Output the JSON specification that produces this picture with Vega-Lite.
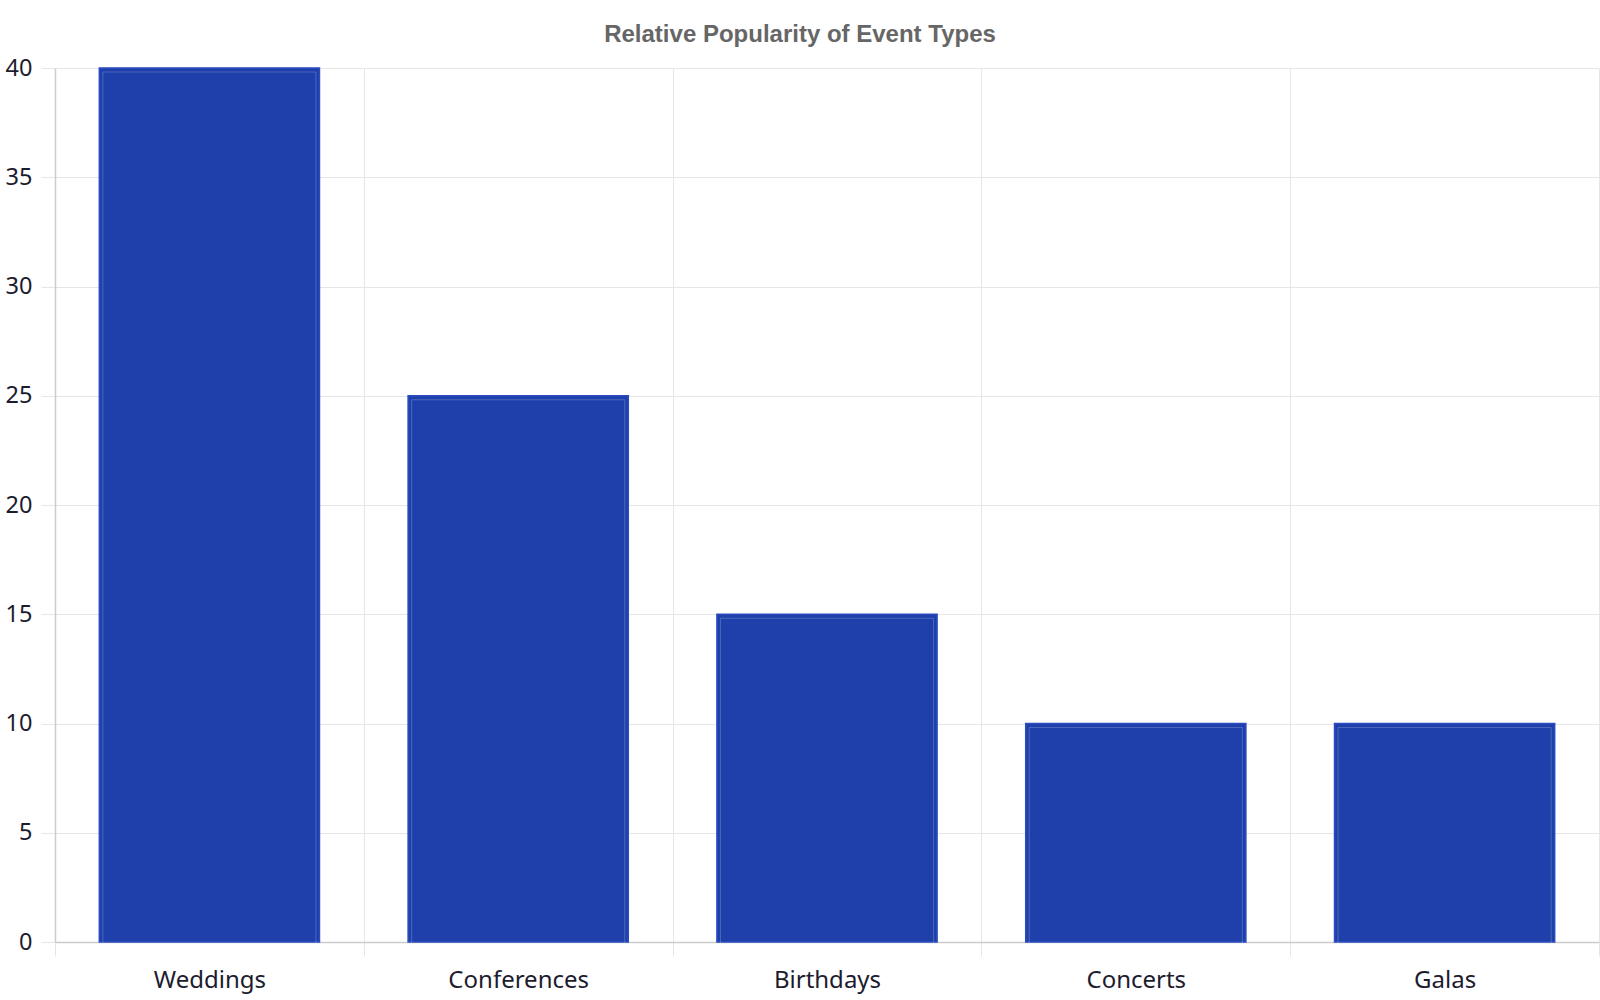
{
  "$schema": "https://vega.github.io/schema/vega-lite/v6.json",
  "autosize": "none",
  "width": 1544,
  "height": 874,
  "padding": {"left": 55, "top": 68, "right": 1, "bottom": 58},
  "background": "white",
  "title": {
    "text": "Relative Popularity of Event Types",
    "font": "Liberation Sans",
    "fontSize": 24,
    "fontWeight": "bold",
    "color": "#666666",
    "anchor": "middle",
    "dx": -27,
    "offset": 9
  },
  "data": {
    "values": [
      {"event": "Weddings", "share": 40},
      {"event": "Conferences", "share": 25},
      {"event": "Birthdays", "share": 15},
      {"event": "Concerts", "share": 10},
      {"event": "Galas", "share": 10}
    ]
  },
  "encoding": {
    "x": {
      "field": "event", "type": "nominal", "sort": null, "title": null,
      "scale": {"paddingInner": 0, "paddingOuter": 0},
      "axis": {
        "labelAngle": 0, "labelFont": "Noto Sans", "labelFontSize": 24,
        "labelColor": "#1c1c2e", "labelPadding": 12,
        "tickBand": "extent", "tickSize": 14, "tickColor": "#e6e6e6",
        "grid": true, "gridColor": "#e6e6e6", "domainColor": "#cccccc", "domainWidth": 1.5
      }
    },
    "y": {
      "field": "share", "type": "quantitative", "title": null,
      "scale": {"domain": [0, 40], "nice": false},
      "axis": {
        "values": [0, 5, 10, 15, 20, 25, 30, 35, 40],
        "labelFont": "Noto Sans", "labelFontSize": 23.5,
        "labelColor": "#1c1c2e", "labelPadding": 9,
        "tickSize": 14, "tickColor": "#e6e6e6",
        "gridColor": "#e6e6e6", "domainColor": "#cccccc", "domainWidth": 1.5
      }
    }
  },
  "layer": [
    {
      "mark": {
        "type": "bar", "fill": "#1f40ab", "stroke": "#2a4cc0", "strokeWidth": 1.5,
        "width": {"band": 0.713}
      }
    },
    {
      "mark": {
        "type": "bar", "fill": null, "stroke": "#ffffff", "strokeOpacity": 0.2,
        "strokeWidth": 1, "width": {"band": 0.69}, "yOffset": 4
      }
    }
  ],
  "config": {
    "view": {"stroke": null}
  }
}
